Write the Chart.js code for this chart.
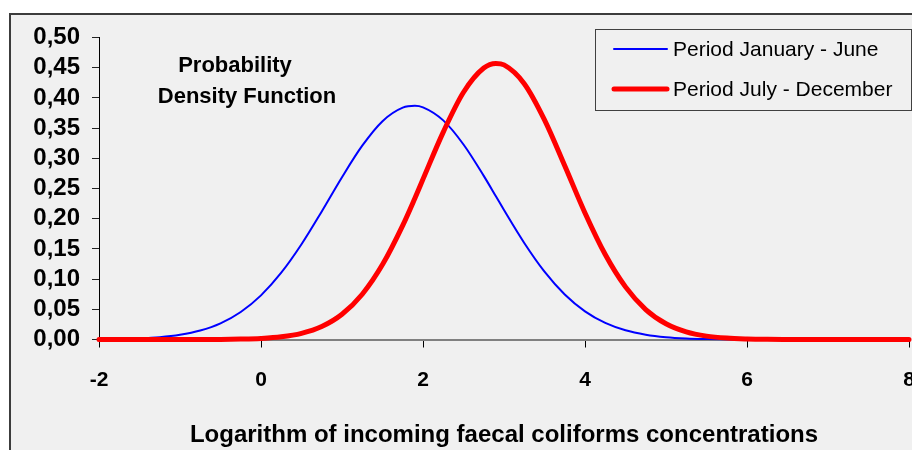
<!DOCTYPE html>
<html>
<head>
<meta charset="utf-8">
<script src="https://cdn.jsdelivr.net/npm/chart.js@4"></script>
<style>
  html, body { margin: 0; padding: 0; background: #fff; }
  #wrap { width: 912px; height: 450px; overflow: hidden; }
</style>
</head>
<body>
<div id="wrap"><canvas id="chart" width="960" height="450"></canvas></div>
<script>
// x = logarithm of concentration
const xValues = [-2, -1.75, -1.5, -1.25, -1, -0.75, -0.5, -0.25, 0, 0.25, 0.5, 0.75, 1, 1.25, 1.5, 1.75, 1.9,
  2, 2.25, 2.5, 2.75, 2.9, 3, 3.25, 3.5, 3.75, 4, 4.25, 4.5, 4.75, 5, 5.25, 5.5, 5.75, 6, 6.25, 6.5,
  6.75, 7, 7.25, 7.5, 7.75, 8];

const janJune = [0.0003, 0.0008, 0.0018, 0.0038, 0.0078, 0.0149, 0.0268, 0.0456, 0.0731, 0.1106, 0.1577, 0.2120,
  0.2687, 0.3209, 0.3615, 0.3839, 0.3870, 0.3844, 0.3628, 0.3229, 0.2709, 0.2371, 0.2143, 0.1598, 0.1123, 0.0745,
  0.0466, 0.0274, 0.0152, 0.0080, 0.0039, 0.0018, 0.0008, 0.0003, 0.0001, 0, 0, 0, 0, 0, 0, 0, 0];

const julyDec = [0, 0, 0, 0, 0, 0.0001, 0.0002, 0.0007, 0.0018, 0.0044, 0.0101, 0.0214, 0.0417, 0.0749, 0.1240,
  0.1890, 0.2340, 0.2655, 0.3434, 0.4093, 0.4494, 0.4570, 0.4546, 0.4236, 0.3637, 0.2877, 0.2095, 0.1407, 0.0871,
  0.0496, 0.0260, 0.0126, 0.0056, 0.0023, 0.0009, 0.0003, 0.0001, 0, 0, 0, 0, 0, 0];

const seriesLabels = ['Period January - June', 'Period July - December'];
const titleLines = ['Probability', 'Density Function'];
const xTitle = 'Logarithm of incoming faecal coliforms concentrations';

const FONT = "'Liberation Sans', Arial, sans-serif";

const toPoints = ys => ys.map((y, i) => ({ x: xValues[i], y: y }));

// background, outer frame, title text and boxed legend
const decor = {
  id: 'decor',
  beforeDraw(chart) {
    const ctx = chart.ctx;
    ctx.save();
    ctx.fillStyle = '#ffffff';
    ctx.fillRect(0, 0, chart.width, chart.height);
    ctx.fillStyle = '#f0f0f0';
    ctx.fillRect(10, 14, chart.width, chart.height);
    ctx.strokeStyle = '#3c3c3c';
    ctx.lineWidth = 2;
    ctx.strokeRect(10, 14, chart.width + 50, chart.height + 50);
    ctx.restore();
  },
  afterDraw(chart) {
    const ctx = chart.ctx;
    ctx.save();
    ctx.fillStyle = '#000';
    ctx.font = 'bold 22px ' + FONT;
    ctx.textAlign = 'center';
    ctx.textBaseline = 'middle';
    ctx.fillText(titleLines[0], 235, 66);
    ctx.fillText(titleLines[1], 247, 97);

    // legend box
    ctx.fillStyle = '#f0f0f0';
    ctx.fillRect(595.5, 29.5, 316, 81);
    ctx.strokeStyle = '#404040';
    ctx.lineWidth = 1;
    ctx.strokeRect(595.5, 29.5, 316, 81);
    ctx.font = '21px ' + FONT;
    ctx.textAlign = 'left';
    chart.data.datasets.forEach((ds, i) => {
      const y = 49 + i * 40;
      ctx.strokeStyle = ds.borderColor;
      ctx.lineWidth = ds.borderWidth;
      ctx.lineCap = 'round';
      ctx.beginPath();
      ctx.moveTo(614, y);
      ctx.lineTo(667, y);
      ctx.stroke();
      ctx.fillStyle = '#000';
      ctx.fillText(ds.label, 673, y + 1.5);
    });
    ctx.restore();
  }
};

new Chart(document.getElementById('chart'), {
  type: 'line',
  data: {
    datasets: [
      { label: seriesLabels[0], data: toPoints(janJune), borderColor: '#0000ff', borderWidth: 2,
        pointRadius: 0, cubicInterpolationMode: 'monotone', clip: false, order: 1 },
      { label: seriesLabels[1], data: toPoints(julyDec), borderColor: '#ff0000', borderWidth: 5,
        borderCapStyle: 'round', pointRadius: 0, cubicInterpolationMode: 'monotone', clip: false, order: 0 }
    ]
  },
  options: {
    responsive: false,
    animation: false,
    devicePixelRatio: 1,
    layout: { padding: { top: 37.5, right: 51, bottom: 0, left: 0 } },
    plugins: { legend: { display: false }, tooltip: { enabled: false } },
    scales: {
      x: {
        type: 'linear', min: -2, max: 8,
        afterFit: s => { s.height = 110.5; },
        ticks: { stepSize: 2, color: '#000', font: { family: FONT, size: 21, weight: 'bold' }, padding: 20, maxRotation: 0 },
        grid: { drawOnChartArea: false, tickLength: 8, color: '#000', lineWidth: 1 },
        border: { color: '#808080', width: 2 },
        title: { display: true, text: xTitle, color: '#000', font: { family: FONT, size: 24, weight: 'bold' },
          padding: { top: 0, bottom: 0.5 } }
      },
      y: {
        min: 0, max: 0.5,
        afterFit: s => { s.width = 99; },
        ticks: { stepSize: 0.05, autoSkip: false, color: '#000', padding: 12,
          font: { family: FONT, size: 24, weight: 'bold' },
          callback: v => v.toFixed(2).replace('.', ',') },
        grid: { drawOnChartArea: false, tickLength: 7, color: '#222', lineWidth: 1 },
        border: { color: '#000', width: 1 }
      }
    }
  },
  plugins: [decor]
});
</script>
</body>
</html>
